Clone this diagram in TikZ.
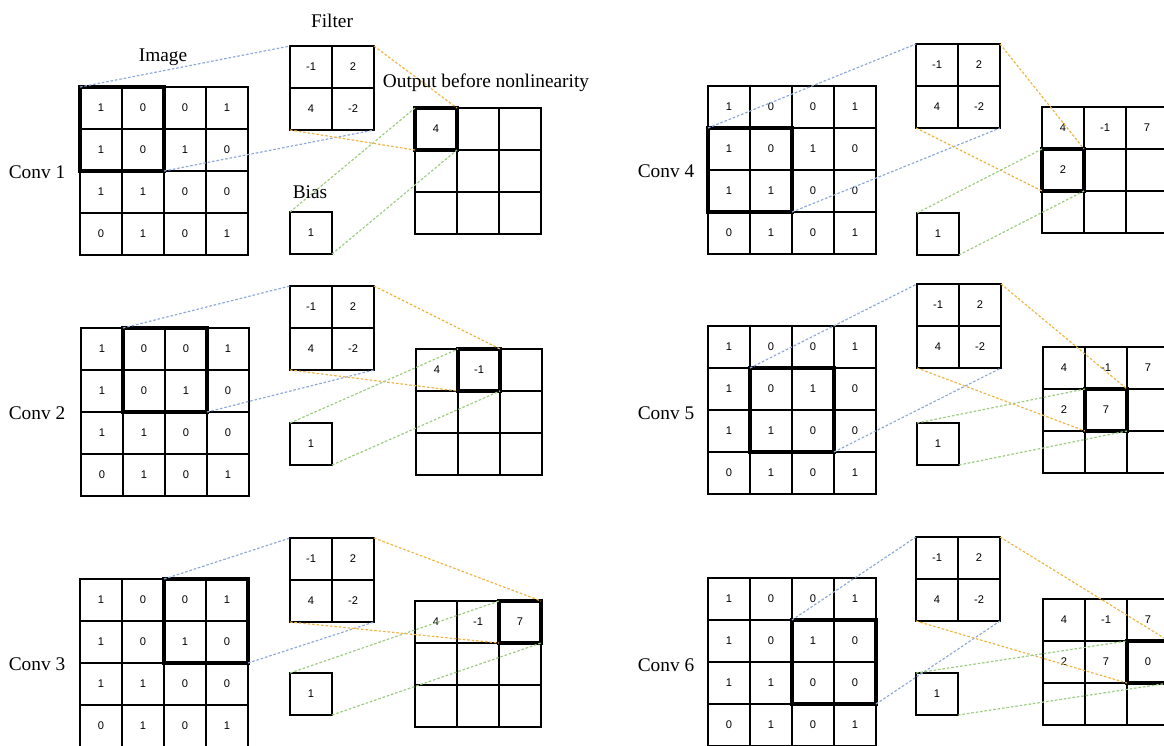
\documentclass[tikz,border=0pt]{standalone}
\usepackage{fontspec}
\setmainfont{Liberation Serif}
\newfontfamily\cellfont{Liberation Sans}
\usepackage{tikz}
\usetikzlibrary{positioning}
\definecolor{imgblue}{HTML}{8EA8DB}
\definecolor{fltorange}{HTML}{F0B443}
\definecolor{biasgreen}{HTML}{9DCB80}
\def\outvals{{4,-1,7,2,7,0}}

\begin{document}
\begin{tikzpicture}[
  x=0.03cm, y=-0.03cm,
  cell/.style={draw, line width=1.1pt, minimum size=1.26cm, inner sep=0pt,
               outer sep=0pt, anchor=north west,
               font={\cellfont\fontsize{9.5}{10}\selectfont}},
  lbl/.style={font={\fontsize{16.5}{18}\selectfont}, inner sep=0pt},
  hlbox/.style={draw=black, line width=2.6pt},
  link/.style={line width=1pt, dash pattern=on 2.2pt off 1.6pt},
  bluelink/.style={link, draw=imgblue},
  orangelink/.style={link, draw=fltorange},
  greenlink/.style={link, draw=biasgreen}
]
  \useasboundingbox (0,0) rectangle (1164,745);
  \clip (0,0) rectangle (1164,745);
  \foreach \n/\lab/\lx/\ly/\ix/\iy/\fx/\fy/\bx/\by/\ox/\oy/\hr/\hc in {
      1/{Conv 1}/37/172/80/87/290/46/290/212/415/108/0/0,
      2/{Conv 2}/37/413/81/328/290/286/290/423/416/349/0/1,
      3/{Conv 3}/37/664/80/579/290/538/290/673/415/601/0/2,
      4/{Conv 4}/666/171/708/86/916/44/917/213/1042/107/1/0,
      5/{Conv 5}/666/413/708/326/917/284/917/423/1043/347/1/1,
      6/{Conv 6}/666/665/708/578/916/537/916/673/1043/599/1/2} {
    \pgfmathtruncatemacro\hrb{\hr+1}
    \pgfmathtruncatemacro\hcb{\hc+1}
    \pgfmathtruncatemacro\cur{3*\hr+\hc}
    \node[lbl] (lab\n) at (\lx,\ly) {\lab};
    % image
    \foreach \row [count=\r from 0] in {{1,0,0,1},{1,0,1,0},{1,1,0,0},{0,1,0,1}}
      \foreach \v [count=\c from 0] in \row
        \node[cell] (i\n-\r-\c) at (\ix+42*\c,\iy+42*\r) {\v};
    % filter and bias
    \foreach \row [count=\r from 0] in {{-1,2},{4,-2}}
      \foreach \v [count=\c from 0] in \row
        \node[cell] (f\n-\r-\c) at (\fx+42*\c,\fy+42*\r) {\v};
    \node[cell] (b\n) at (\bx,\by) {1};
    % output
    \foreach \r in {0,1,2}
      \foreach \c in {0,1,2} {
        \pgfmathtruncatemacro\idx{3*\r+\c}
        \ifnum\idx>\cur \def\ov{}\else \pgfmathtruncatemacro\ov{\outvals[\idx]}\fi
        \node[cell] (o\n-\r-\c) at (\ox+42*\c,\oy+42*\r) {\ov};
      }
    \path[hlbox] (i\n-\hr-\hc.north west) rectangle (i\n-\hrb-\hcb.south east);
    \path[hlbox] (o\n-\hr-\hc.north west) rectangle (o\n-\hr-\hc.south east);
    \draw[bluelink] (i\n-\hr-\hc.north west) -- (f\n-0-0.north west);
    \draw[bluelink] (i\n-\hrb-\hcb.south east) -- (f\n-1-1.south east);
    \draw[orangelink] (f\n-0-1.north east) -- (o\n-\hr-\hc.north east);
    \draw[orangelink] (f\n-1-0.south west) -- (o\n-\hr-\hc.south west);
    \draw[greenlink] (b\n.north west) -- (o\n-\hr-\hc.north west);
    \draw[greenlink] (b\n.south east) -- (o\n-\hr-\hc.south east);
  }
  \node[lbl] (imglbl) at (163,57) {Image};
  \node[lbl] (fltlbl) at (332,21) {Filter};
  \node[lbl] (outlbl) at (486,83) {Output before nonlinearity};
  \node[lbl] (biaslbl) at (310,192) {Bias};
\end{tikzpicture}
\end{document}
